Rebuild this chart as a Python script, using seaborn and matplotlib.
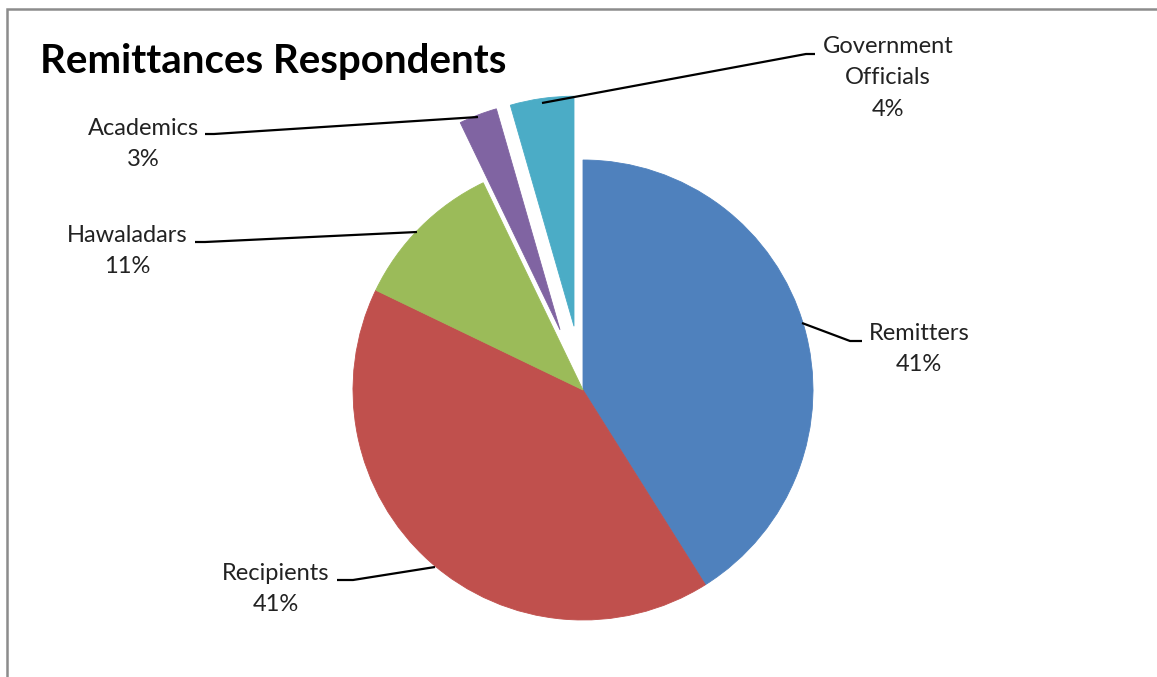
import matplotlib
matplotlib.use("Agg")
import matplotlib.pyplot as plt
import matplotlib.patches as mpatches
import seaborn as sns

# Survey respondents by group
categories = ["Remitters", "Recipients", "Hawaladars", "Academics", "Government\nOfficials"]
counts = [46, 46, 12, 3, 5]
colors = ["#4F81BD", "#C0504D", "#9BBB59", "#8064A2", "#4BACC6"]
exploded = [0, 0, 0, 1, 1]

sns.set_theme(style="white")
plt.rcParams["font.family"] = ["Lato", "DejaVu Sans"]

W, H = 1157, 677
fig = plt.figure(figsize=(W / 100, H / 100), dpi=100)
ax = fig.add_axes([0, 0, 1, 1])

cx, cy, r = 583, H - 390, 230
wedges, _ = ax.pie(counts, colors=colors, startangle=90, counterclock=False,
                   center=(cx, cy), radius=r,
                   explode=[e * 0.28 * r for e in exploded],
                   wedgeprops=dict(linewidth=0.6), frame=True)
for w in wedges:
    w.set_edgecolor(w.get_facecolor())
ax.set_xlim(0, W)
ax.set_ylim(0, H)
ax.set_aspect("equal")
ax.axis("off")

total = sum(counts)
pct = [f"{round(100 * c / total)}%" for c in counts]

# label anchor (x, y of text block centre) and leader polyline, in pixel space
label_pos = [(919, 349), (276, 589), (127, 251), (143, 144), (888, 78)]
leaders = [
    [(802, 323), (850, 341), (862, 341)],
    [(435, 567), (353, 580), (337, 580)],
    [(417, 232), (205, 242), (195, 242)],
    [(478, 117), (214, 134), (205, 134)],
    [(542, 103), (806, 54), (815, 54)],
]
for name, p, (tx, ty), pts in zip(categories, pct, label_pos, leaders):
    ax.text(tx, H - ty, f"{name}\n{p}", ha="center", va="center",
            fontsize=17, color="#222222", linespacing=1.6)
    xs = [q[0] for q in pts]
    ys = [H - q[1] for q in pts]
    ax.plot(xs, ys, color="black", lw=1.6, solid_capstyle="butt")

ax.text(40, H - 61, "Remittances Respondents", ha="left", va="center",
        fontsize=29, fontweight="bold", color="black")

# chart frame
fig.patches.append(mpatches.Rectangle((6.5 / W, -0.05), 1.2, (H - 9) / H + 0.05,
                                      transform=fig.transFigure, fill=False,
                                      edgecolor="#8c8c8c", linewidth=1.8))

fig.savefig("out.png", dpi=100)
